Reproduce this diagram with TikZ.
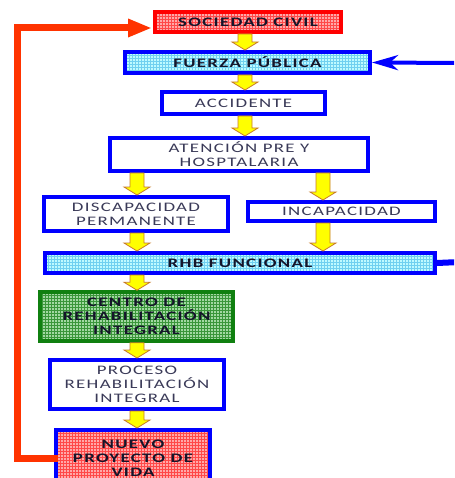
\documentclass[tikz,border=0pt]{standalone}
\usepackage{fontspec}
\setmainfont{Carlito}[FakeStretch=1.45, LetterSpace=10]
\usetikzlibrary{patterns,arrows.meta,calc}
\definecolor{bluebd}{HTML}{0000FF}
\definecolor{redbd}{HTML}{FF0000}
\definecolor{loopred}{HTML}{FF3300}
\definecolor{greenbd}{HTML}{108010}
\definecolor{txt}{HTML}{3A3A58}
\definecolor{txtb}{HTML}{15152A}
\definecolor{pinkbase}{HTML}{FFA8A8}
\definecolor{pinkgrid}{HTML}{FF4848}
\definecolor{cyanbase}{HTML}{BEFAFF}
\definecolor{cyangrid}{HTML}{70D0F0}
\definecolor{greenbase}{HTML}{A2D8A2}
\definecolor{greengrid}{HTML}{3A963A}
\definecolor{ybody}{HTML}{FFFF00}
\definecolor{yedge}{HTML}{C87A2A}
\tikzset{
  box/.style={rectangle, draw=bluebd, line width=4pt, inner sep=0pt, align=center,
    font=\fontsize{13}{14}\selectfont, text=txt},
  plainbox/.style={box, fill=white},
  boldbox/.style={box, font=\fontsize{13}{14}\selectfont\bfseries, text=txtb},
  pinkfill/.style={preaction={fill=pinkbase}, pattern=grid, pattern color=pinkgrid},
  cyanfill/.style={preaction={fill=cyanbase}, pattern=grid, pattern color=cyangrid},
  greenfill/.style={preaction={fill=greenbase}, pattern=grid, pattern color=greengrid},
  yarrow/.style={fill=ybody, draw=yedge, line width=0.8pt, line join=miter},
  redloop/.style={draw=loopred, line width=7pt, -{Triangle[length=24pt,width=17pt]}},
  blueline/.style={draw=bluebd, line width=4pt}
}
\newcommand\yarr[3]{%
  \draw[yarrow] let \p1=(#1.south), \p2=(#2.north) in
    (#3-7pt,\y1) -- (#3+7pt,\y1) -- (#3+7pt,\y2+8pt) -- (#3+13pt,\y2+8pt)
    -- (#3,\y2) -- (#3-13pt,\y2+8pt) -- (#3-7pt,\y2+8pt) -- cycle;}
\begin{document}
\begin{tikzpicture}[x=1pt,y=-1pt]
\clip (0,0) rectangle (454,478);
\fill[white] (0,0) rectangle (454,478);
% nodes
\node[boldbox, draw=redbd, pinkfill, minimum width=186pt, minimum height=20pt] (soc) at (248,22) {SOCIEDAD CIVIL};
\node[boldbox, cyanfill, minimum width=245pt, minimum height=21pt] (fue) at (247.5,62.5) {FUERZA PÚBLICA};
\node[plainbox, minimum width=163pt, minimum height=22pt] (acc) at (243.5,103) {ACCIDENTE};
\node[plainbox, minimum width=258pt, minimum height=33pt] (ate) at (239,154.5) {ATENCIÓN PRE Y\\HOSPTALARIA};
\node[plainbox, minimum width=184pt, minimum height=34pt] (dis) at (136,214) {DISCAPACIDAD\\PERMANENTE};
\node[plainbox, minimum width=187pt, minimum height=19pt] (inc) at (341.5,211.5) {INCAPACIDAD};
\node[boldbox, cyanfill, minimum width=390pt, minimum height=20pt] (rhb) at (240,263) {RHB FUNCIONAL};
\node[boldbox, draw=greenbd, line width=3.5pt, greenfill, minimum width=193pt, minimum height=49pt] (cen) at (136.5,316.5) {CENTRO DE\\REHABILITACIÓN\\INTEGRAL};
\node[plainbox, minimum width=174pt, minimum height=49pt] (pro) at (137,384.5) {PROCESO\\REHABILITACIÓN\\INTEGRAL};
\node[boldbox, pinkfill, minimum width=154pt, minimum height=56pt] (nue) at (133,458) {NUEVO\\PROYECTO DE\\VIDA};
% yellow block arrows
\yarr{soc}{fue}{245pt}
\yarr{fue}{acc}{245pt}
\yarr{acc}{ate}{245pt}
\yarr{ate}{dis}{137pt}
\yarr{ate}{inc}{323pt}
\yarr{dis}{rhb}{137pt}
\yarr{inc}{rhb}{323pt}
\yarr{rhb}{cen}{137pt}
\yarr{cen}{pro}{137pt}
\yarr{pro}{nue}{137pt}
% red feedback loop
\coordinate (r0) at (58,458);
\coordinate (r1) at (17,458);
\coordinate (r2) at (17,28);
\coordinate (r3) at (152,28);
\draw[redloop] (r0) -- (r1) -- (r2) -- (r3);
% blue connectors at right
\coordinate (b1) at (460,262);
\coordinate (b2) at (460,63);
\draw[bluebd, line width=6pt] (rhb.east) -- (b1);
\draw[blueline, -{Stealth[length=26pt,width=15pt,inset=8pt]}] (b2) -- (fue.east);
\end{tikzpicture}
\end{document}
